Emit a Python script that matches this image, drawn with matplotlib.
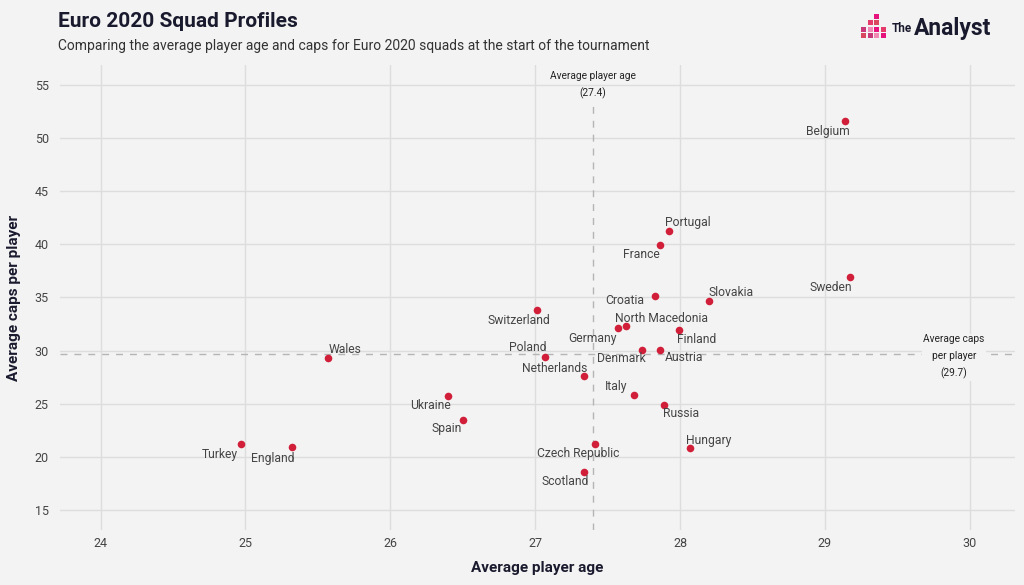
import matplotlib.pyplot as plt
from matplotlib.patches import Rectangle

teams = ['Belgium', 'Sweden', 'Portugal', 'France', 'Croatia', 'Slovakia', 'Switzerland',
         'North Macedonia', 'Germany', 'Finland', 'Denmark', 'Austria', 'Poland', 'Wales',
         'Netherlands', 'Italy', 'Russia', 'Ukraine', 'Spain', 'Hungary', 'Czech Republic',
         'Scotland', 'Turkey', 'England']
avg_age = [29.14, 29.17, 27.92, 27.86, 27.83, 28.20, 27.01,
           27.63, 27.57, 27.99, 27.74, 27.86, 27.07, 25.57,
           27.34, 27.68, 27.89, 26.40, 26.50, 28.07, 27.41,
           27.34, 24.97, 25.32]
avg_caps = [51.6, 36.9, 41.3, 39.9, 35.1, 34.7, 33.8,
            32.3, 32.1, 31.9, 30.1, 30.1, 29.4, 29.3,
            27.6, 25.8, 24.9, 25.7, 23.5, 20.8, 21.2,
            18.6, 21.2, 20.9]
# label offsets in pixels (dx, dy)
label_off = [(-17, -10), (-19, -10), (19, 8), (-18, -9), (-31, -4), (22, 8), (-18, -10),
             (35, 8), (-25, -10), (18, -9), (-21, -9), (24, -8), (-18, 9), (17, 8),
             (-30, 8), (-18, 9), (17, -9), (-18, -9), (-16, -9), (18, 8), (-16, -9),
             (-19, -10), (-21, -10), (-19, -11)]
mean_age = 27.4
mean_caps = 29.7
x_ticks = [24, 25, 26, 27, 28, 29, 30]
y_ticks = [15, 20, 25, 30, 35, 40, 45, 50, 55]

bg = '#f3f3f3'
dot_col = '#d11f3a'

plt.rcParams['font.family'] = ['Roboto', 'DejaVu Sans']

fig = plt.figure(figsize=(10.24, 5.85), dpi=100, facecolor=bg)
ax = fig.add_axes([0.0586, 0.094, 0.9324, 0.795])
ax.set_facecolor(bg)

ax.scatter(avg_age, avg_caps, s=30, color=dot_col, zorder=3, linewidths=0)
for t, x, y, (dx, dy) in zip(teams, avg_age, avg_caps, label_off):
    ax.annotate(t, (x, y), xytext=(dx, dy), textcoords='offset pixels',
                ha='center', va='center', fontsize=8.7, color='#444444', zorder=4)

# dashed mean lines; the vertical one stops below its label
ax.axvline(mean_age, ymax=0.925, color='#b5b5b5', lw=1, ls=(0, (5, 5)), zorder=2)
ax.axhline(mean_caps, color='#b5b5b5', lw=1, ls=(0, (5, 5)), zorder=2)
ax.text(mean_age, 55.0, 'Average player age\n(27.4)', ha='center', va='center',
        fontsize=7.3, color='#222222', linespacing=1.8)
ax.text(29.89, 29.4, 'Average caps\nper player\n(29.7)', ha='center', va='center',
        fontsize=7.3, color='#222222', linespacing=1.8,
        bbox=dict(facecolor=bg, edgecolor='none', pad=1))

ax.set_xlim(23.72, 30.31)
ax.set_ylim(13.1, 56.9)
ax.set_xticks(x_ticks)
ax.set_yticks(y_ticks)
ax.grid(True, color='#dddddd', lw=1, zorder=0)
ax.set_axisbelow(True)
for s in ax.spines.values():
    s.set_visible(False)
ax.tick_params(axis='x', length=0, labelsize=9, labelcolor='#444444', pad=5)
ax.tick_params(axis='y', length=0, labelsize=9, labelcolor='#444444', pad=8)
ax.set_xlabel('Average player age', fontsize=11, fontweight='bold', color='#1a1a2e', labelpad=8)
ax.set_ylabel('Average caps per player', fontsize=11, fontweight='bold', color='#1a1a2e', labelpad=10)

fig.text(0.0566, 0.963, 'Euro 2020 Squad Profiles', fontsize=15, fontweight='bold',
         color='#1a1a2e', va='center')
fig.text(0.0566, 0.921, 'Comparing the average player age and caps for Euro 2020 squads at the start of the tournament',
         fontsize=10, color='#333333', va='center')

# logo
cols = ['#e8127c', '#e63a6b', '#d9485f', '#c8397a', '#f08ab5']
cells = [(2, 3), (1, 2), (2, 2), (0, 1), (1, 1), (2, 1), (3, 1), (0, 0), (1, 0), (2, 0), (3, 0)]
for i, (cx, cy) in enumerate(cells):
    px = 861 + cx * 6.5
    py = 38 - cy * 6.5
    fig.patches.append(Rectangle((px / 1024, 1 - py / 585), 5 / 1024, 5 / 585,
                                 transform=fig.transFigure, facecolor=cols[i % len(cols)],
                                 edgecolor='none'))
fig.text(892 / 1024, 1 - 28 / 585, 'The', fontsize=8.5, fontweight='bold', color='#1a1a2e', va='center')
fig.text(914 / 1024, 1 - 28 / 585, 'Analyst', fontsize=16.5, fontweight='bold', color='#1a1a2e', va='center')

fig.savefig('out.png', dpi=100, facecolor=bg)
